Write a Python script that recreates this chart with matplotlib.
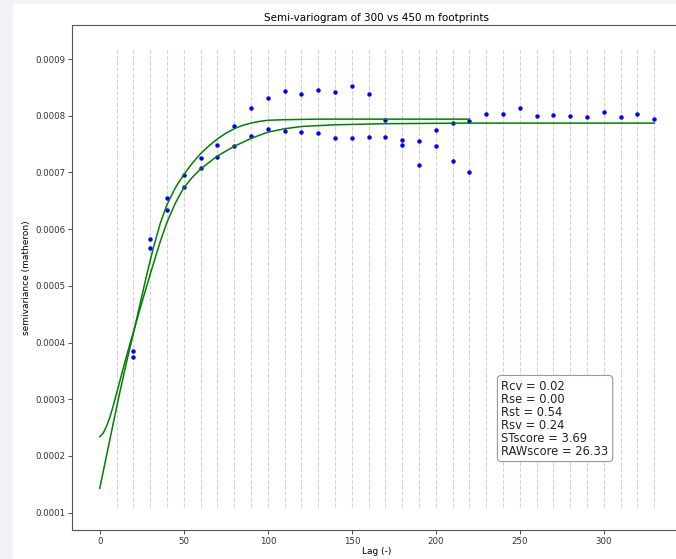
import matplotlib.pyplot as plt
from matplotlib.patches import Rectangle

# puntos experimentales (dos conjuntos de pares)
lags_a = [20, 30, 40, 50, 60, 70, 80, 90, 100, 110, 120, 130, 140, 150, 160,
          170, 180, 190, 200, 210, 220]
gamma_a = [0.000385, 0.000582, 0.000655, 0.000696, 0.000725, 0.000749, 0.000782,
           0.000814, 0.000831, 0.000843, 0.000838, 0.000845, 0.000841, 0.000852,
           0.000838, 0.000792, 0.000758, 0.000756, 0.000775, 0.000787, 0.000791]

lags_b = [20, 30, 40, 50, 60, 70, 80, 90, 100, 110, 120, 130, 140, 150, 160,
          170, 180, 190, 200, 210, 220, 230, 240, 250, 260, 270, 280, 290, 300,
          310, 320, 330]
gamma_b = [0.000375, 0.000567, 0.000634, 0.000675, 0.000707, 0.000728, 0.000746,
           0.000764, 0.000776, 0.000773, 0.000772, 0.000770, 0.000761, 0.000761,
           0.000762, 0.000762, 0.000749, 0.000713, 0.000746, 0.000721, 0.000700,
           0.000803, 0.000803, 0.000814, 0.000800, 0.000802, 0.000800, 0.000797,
           0.000806, 0.000798, 0.000803, 0.000795]

# modelos ajustados
model_x_a = [0, 4, 8, 12, 16, 20, 24, 28, 32, 36, 40, 45, 50, 55, 60, 65, 70,
             75, 80, 85, 90, 95, 100, 110, 130, 220]
model_y_a = [0.000143, 0.000200, 0.000257, 0.000313, 0.000366, 0.000416,
             0.000468, 0.000520, 0.000568, 0.000610, 0.000643, 0.000673,
             0.000696, 0.000716, 0.000733, 0.000747, 0.000759, 0.000769,
             0.000777, 0.000783, 0.000787, 0.000790, 0.000792, 0.000793,
             0.000794, 0.000794]

model_x_b = [0, 2, 4, 6, 8, 10, 14, 18, 20, 25, 30, 36, 40, 45, 50, 55, 60,
             70, 80, 90, 100, 110, 120, 140, 170, 220, 330]
model_y_b = [0.000234, 0.000240, 0.000252, 0.000268, 0.000288, 0.000310,
             0.000355, 0.000398, 0.000418, 0.000470, 0.000520, 0.000578,
             0.000612, 0.000646, 0.000673, 0.000691, 0.000706, 0.000729,
             0.000746, 0.000760, 0.000771, 0.000777, 0.000781, 0.000784,
             0.000786, 0.000787, 0.000787]

lag_lines = list(range(10, 340, 10))

scores = {"Rcv": 0.02, "Rse": 0.00, "Rst": 0.54, "Rsv": 0.24,
          "STscore": 3.69, "RAWscore": 26.33}

fig = plt.figure(figsize=(6.76, 5.59), dpi=100)
fig.patch.set_facecolor('white')
# marco gris de la captura
fig.patches.append(Rectangle((0, 0), 13 / 676, 1, transform=fig.transFigure,
                             facecolor='#f2f2f6', edgecolor='none', zorder=-10))
fig.patches.append(Rectangle((0, 1 - 4 / 559), 1, 4 / 559, transform=fig.transFigure,
                             facecolor='#f2f2f6', edgecolor='none', zorder=-10))

ax = fig.add_axes([72 / 676, 29 / 559, 610 / 676, 505 / 559])

ax.vlines(lag_lines, 0.00011, 0.00092, colors='lightgray', linestyles='dashed',
          linewidth=0.8)
ax.plot(lags_a, gamma_a, 'o', color='blue', ms=2.2)
ax.plot(lags_b, gamma_b, 'o', color='blue', ms=2.2)
ax.plot(model_x_a, model_y_a, color='green', lw=1.1)
ax.plot(model_x_b, model_y_b, color='green', lw=1.1)

ax.set_xlim(-16.5, 346.5)
ax.set_ylim(0.0000695, 0.00096)
ax.set_xticks([0, 50, 100, 150, 200, 250, 300])
ax.set_yticks([0.0001, 0.0002, 0.0003, 0.0004, 0.0005, 0.0006, 0.0007, 0.0008, 0.0009])
ax.set_yticklabels(['0.0001', '0.0002', '0.0003', '0.0004', '0.0005', '0.0006',
                    '0.0007', '0.0008', '0.0009'])
ax.tick_params(labelsize=6.2, length=3, width=0.6, pad=2, colors='#333333')
for s in ax.spines.values():
    s.set_color('#555555')
    s.set_linewidth(0.8)

ax.set_title('Semi-variogram of 300 vs 450 m footprints', fontsize=7.5, pad=3)
ax.set_xlabel('Lag (-)', fontsize=6.5, labelpad=1)
ax.set_ylabel('semivariance (matheron)', fontsize=6.5, labelpad=3)

texto = "\n".join(f"{k} = {v:.2f}" for k, v in scores.items())
ax.text(0.704, 0.298, texto, transform=ax.transAxes, fontsize=8.3, va='top',
        color='#222222', linespacing=1.0,
        bbox=dict(boxstyle='round,pad=0.35', facecolor='white', edgecolor='#999999',
                  linewidth=0.8))

fig.savefig('out.png', dpi=100)
